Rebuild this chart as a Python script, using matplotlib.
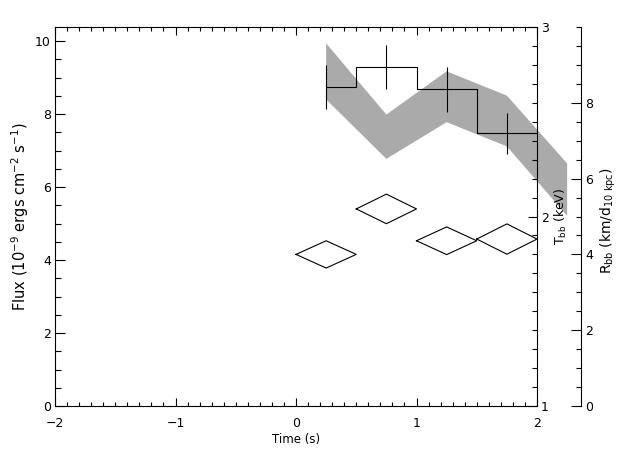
import matplotlib
matplotlib.use('Agg')
import matplotlib.pyplot as plt
from matplotlib.ticker import MultipleLocator
from matplotlib.patches import Polygon

plt.rcParams['font.family'] = 'DejaVu Sans'
plt.rcParams['font.size'] = 9

# flux histogram (left axis)
t_flux = [0.25, 0.75, 1.25, 1.75]
flux = [8.74, 9.29, 8.68, 7.48]
flux_err = [0.60, 0.61, 0.61, 0.56]

# blackbody temperature (diamonds, T axis)
t_kt = [0.25, 0.75, 1.25, 1.75]
kt = [1.80, 2.04, 1.872, 1.881]
kt_err = [0.072, 0.078, 0.073, 0.080]
dt = 0.25

# blackbody radius band (R axis)
t_r = [0.25, 0.75, 1.25, 1.75, 2.25]
r_hi = [9.57, 7.69, 8.83, 8.19, 6.40]
r_lo = [8.09, 6.52, 7.49, 6.85, 5.02]

fig = plt.figure(figsize=(6.4, 4.57), dpi=100)
ax = fig.add_axes([55/640, 1-406/457, 482/640, 379/457])
lw = 0.8

# radius axis (outer right)
axr = ax.twinx()
axr.set_ylim(0, 10)
for s in ['top', 'bottom', 'left']:
    axr.spines[s].set_visible(False)
axr.spines['right'].set_position(('axes', 1.0913))
axr.spines['right'].set_linewidth(lw)
axr.yaxis.set_major_locator(MultipleLocator(2))
axr.yaxis.set_minor_locator(MultipleLocator(0.5))
axr.tick_params(axis='y', which='major', direction='in', length=7, width=lw, pad=3)
axr.tick_params(axis='y', which='minor', direction='in', length=3.6, width=lw)
axr.set_ylabel(r'R$_{\rm bb}$ (km/d$_{\rm 10\ kpc}$)', rotation=90, fontsize=10)
axr.yaxis.set_label_coords(1.127, 0.49)
axr.set_yticks([0, 2, 4, 6, 8])

band = [(x, y) for x, y in zip(t_r, r_hi)] + [(x, y) for x, y in zip(t_r[::-1], r_lo[::-1])]
axr.add_patch(Polygon(band, closed=True, facecolor='#aaaaaa', edgecolor='none', clip_on=False))

# temperature axis (plot right edge)
axt = ax.twinx()
axt.set_ylim(1, 3)
for s in ['top', 'bottom', 'left']:
    axt.spines[s].set_visible(False)
axt.spines['right'].set_linewidth(lw)
axt.yaxis.set_major_locator(MultipleLocator(1))
axt.yaxis.set_minor_locator(MultipleLocator(0.1))
axt.tick_params(axis='y', which='major', direction='in', length=6.5, width=lw, pad=3)
axt.tick_params(axis='y', which='minor', direction='in', length=3.6, width=lw)
axt.set_ylabel(r'T$_{\rm bb}$ (keV)', rotation=90)
axt.yaxis.set_label_coords(1.033, 0.5)

for x, y, e in zip(t_kt, kt, kt_err):
    xs = [x - dt, x, x + dt, x, x - dt]
    ys = [y, y + e, y, y - e, y]
    axt.plot(xs, ys, color='black', lw=lw)

# stacking: band at the back, flux histogram on top
axr.set_zorder(1)
axt.set_zorder(2)
ax.set_zorder(3)
ax.patch.set_visible(False)
axt.patch.set_visible(False)

# flux axis
ax.set_xlim(-2, 2)
ax.set_ylim(0, 10.39)
edges = [t_flux[0]] + [(a + b) / 2 for a, b in zip(t_flux[:-1], t_flux[1:])] + [t_flux[-1] + dt]
ax.stairs(flux, edges, color='black', lw=lw, baseline=None)
ax.errorbar(t_flux, flux, yerr=flux_err, fmt='none', ecolor='black', elinewidth=lw, capsize=0)

ax.xaxis.set_major_locator(MultipleLocator(1))
ax.xaxis.set_minor_locator(MultipleLocator(0.1))
ax.yaxis.set_major_locator(MultipleLocator(2))
ax.yaxis.set_minor_locator(MultipleLocator(0.5))
ax.tick_params(axis='x', which='major', direction='in', length=6, width=lw, top=True, pad=8)
ax.tick_params(axis='x', which='minor', direction='in', length=3, width=lw, top=True)
ax.tick_params(axis='y', which='major', direction='in', length=7.5, width=lw, pad=3)
ax.tick_params(axis='y', which='minor', direction='in', length=4.5, width=lw)
for s in ax.spines.values():
    s.set_linewidth(lw)
ax.spines['right'].set_visible(False)
ax.set_xlabel('Time (s)', labelpad=2, fontsize=8.5)
ax.set_ylabel(r'Flux (10$^{-9}$ ergs cm$^{-2}$ s$^{-1}$)', fontsize=10.5)
ax.yaxis.set_label_coords(-0.05, 0.5)
ax.set_xticks([-2, -1, 0, 1, 2])
ax.set_xticklabels(['\u22122', '\u22121', '0', '1', '2'])

fig.savefig('out.png', dpi=100)
